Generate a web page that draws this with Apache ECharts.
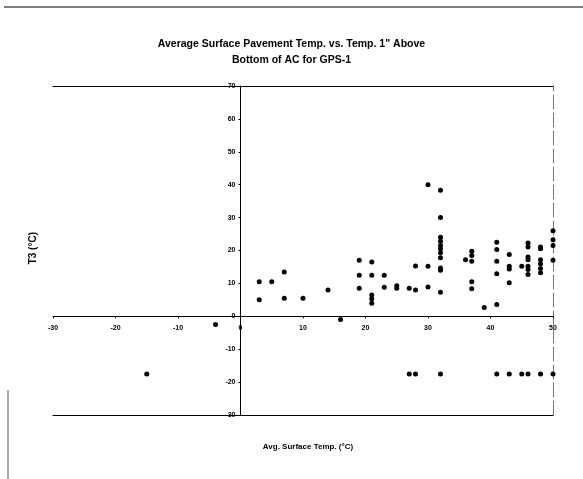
<!DOCTYPE html>
<html>
<head>
<meta charset="utf-8">
<script src="https://cdn.jsdelivr.net/npm/echarts@6/dist/echarts.min.js"></script>
<style>
html,body{margin:0;padding:0;background:#fff;}
#chart{width:583px;height:479px;}
</style>
</head>
<body>
<div id="chart"></div>
<script>
// Avg. surface temperature (°C)
const surfaceTemp = [
  3, 3, 5, 7, 7, 10, 14, 16, -4, -15,
  19, 19, 19, 21, 21, 21, 21, 21, 23, 23, 25, 25, 27, 28, 28,
  30, 30, 30, 32, 32, 32, 32, 32, 32, 32, 32, 32, 32, 32,
  36, 37, 37, 37, 37, 37, 39,
  41, 41, 41, 41, 41,
  43, 43, 43, 43, 45,
  46, 46, 46, 46, 46, 46, 46,
  48, 48, 48, 48, 48, 48,
  50, 50, 50, 50,
  27, 28, 32, 41, 43, 45, 46, 48, 50
];
// T3: temperature 1" above bottom of AC (°C)
const t3 = [
  10.5, 5, 10.5, 13.5, 5.5, 5.5, 8, -1, -2.5, -17.5,
  17, 12.5, 8.5, 16.5, 12.5, 6.5, 5.3, 4, 12.5, 8.8, 9.3, 8.5, 8.5, 8, 15.3,
  40, 15.2, 8.9, 38.3, 30, 24, 22.8, 21.5, 20.5, 19.3, 17.8, 14.7, 14, 7.3,
  17.2, 19.8, 18.5, 16.7, 10.5, 8.4, 2.7,
  3.6, 22.5, 20.3, 16.7, 12.9,
  18.8, 15.2, 14.4, 10.2, 15.2,
  22.3, 21.1, 18, 17.2, 15.2, 14.2, 12.7,
  21.1, 20.5, 17.2, 16, 14.5, 13.2,
  26, 23.3, 21.5, 17,
  -17.5, -17.5, -17.5, -17.5, -17.5, -17.5, -17.5, -17.5, -17.5
];
const xTicks = {min: -30, max: 50, interval: 10};
const yTicks = {min: -30, max: 70, interval: 10};
const titleLines = ['Average Surface Pavement Temp. vs. Temp. 1" Above', 'Bottom of AC for GPS-1'];
const xName = 'Avg. Surface Temp. (°C)';
const yName = 'T3 (°C)';

const points = surfaceTemp.map((x, i) => [x, t3[i]]);
const fontFam = '"Liberation Sans", Arial, sans-serif';

// grid geometry
const G = {left: 53, right: 30, top: 86, bottom: 64};
const W = 583, H = 479;
const gw = W - G.left - G.right, gh = H - G.top - G.bottom;
// shift axes so that they cross at zero
const yAxisOffset = -gw * (0 - xTicks.min) / (xTicks.max - xTicks.min);
const xAxisOffset = -gh * (0 - yTicks.min) / (yTicks.max - yTicks.min);

const chart = echarts.init(document.getElementById('chart'), null, {renderer: 'canvas'});
chart.setOption({
  backgroundColor: '#fff',
  animation: false,
  title: [
    {
      text: titleLines.join('\n'),
      left: 'center',
      top: 31,
      textStyle: {fontFamily: fontFam, fontSize: 10.5, fontWeight: 'bold', color: '#000', lineHeight: 16}
    },
    {
      text: xName,
      left: 303, top: 438, textAlign: 'center',
      textStyle: {fontFamily: fontFam, fontSize: 8, fontWeight: 'bold', color: '#000'}
    }
  ],
  grid: {left: G.left, right: G.right, top: G.top, bottom: G.bottom, containLabel: false, outerBoundsMode: 'none'},
  xAxis: [
    {
      type: 'value', position: 'bottom', offset: xAxisOffset,
      min: xTicks.min, max: xTicks.max, interval: xTicks.interval,
      axisLine: {onZero: false, lineStyle: {color: '#000', width: 1}},
      axisTick: {show: true, length: 2, lineStyle: {color: '#000'}},
      axisLabel: {fontFamily: fontFam, fontSize: 7, fontWeight: 'bold', color: '#000', margin: 8},
      splitLine: {show: false}
    },
    {
      type: 'value', position: 'top', min: xTicks.min, max: xTicks.max,
      axisLine: {show: true, onZero: false, lineStyle: {color: '#000', width: 1}},
      axisTick: {show: false}, axisLabel: {show: false}, splitLine: {show: false}
    },
    {
      type: 'value', position: 'bottom', min: xTicks.min, max: xTicks.max,
      axisLine: {show: true, onZero: false, lineStyle: {color: '#000', width: 1}},
      axisTick: {show: false}, axisLabel: {show: false}, splitLine: {show: false}
    }
  ],
  yAxis: [
    {
      type: 'value', position: 'left', offset: yAxisOffset,
      min: yTicks.min, max: yTicks.max, interval: yTicks.interval,
      axisLine: {onZero: false, lineStyle: {color: '#000', width: 1}},
      axisTick: {show: true, length: 2, lineStyle: {color: '#000'}},
      axisLabel: {fontFamily: fontFam, fontSize: 7, fontWeight: 'bold', color: '#000', margin: 5},
      splitLine: {show: false}
    },
    {
      type: 'value', position: 'right', min: yTicks.min, max: yTicks.max,
      axisLine: {show: true, onZero: false, lineStyle: {color: '#777', width: 1, type: [14, 4]}},
      axisTick: {show: false}, axisLabel: {show: false}, splitLine: {show: false}
    }
  ],
  graphic: [
    {type: 'line', shape: {x1: 4, y1: 7, x2: 583, y2: 7}, style: {stroke: '#000', lineWidth: 1}},
    {type: 'line', shape: {x1: 8, y1: 390, x2: 8, y2: 479}, style: {stroke: '#555', lineWidth: 1}},
    {
      type: 'text', left: 28, top: 232,
      rotation: Math.PI / 2,
      style: {text: yName, font: 'bold 10px "Liberation Sans", Arial, sans-serif', fill: '#000'}
    }
  ],
  series: [{
    type: 'scatter',
    data: points,
    symbol: 'circle',
    symbolSize: 5,
    itemStyle: {color: '#000', opacity: 1}
  }]
});
</script>
</body>
</html>
